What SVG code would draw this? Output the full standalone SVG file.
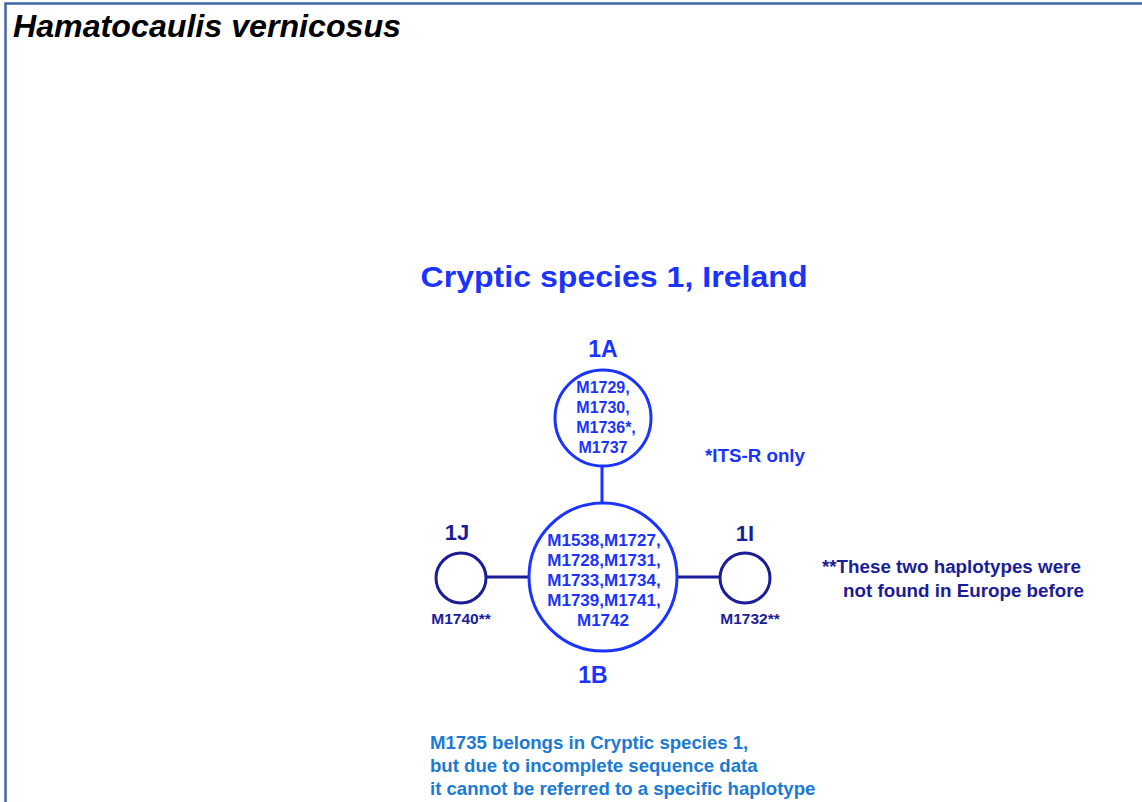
<svg xmlns="http://www.w3.org/2000/svg" width="1142" height="802" viewBox="0 0 1142 802">
<style>
text{font-family:"Liberation Sans",Arial,sans-serif;font-weight:bold}
.b{fill:#1a33ff}
.n{fill:#1c1c99}
.lb{fill:#1a7ad4}
.c{text-anchor:middle}
.cb{fill:#fff;stroke:#1a33ff;stroke-width:3}
.cn{fill:#fff;stroke:#1c1c99;stroke-width:3}
</style>
<rect width="1142" height="802" fill="#fff"/>
<path d="M5.5,802 V3.5 H1142" fill="none" stroke="#3f67a3" stroke-width="2.5"/>
<text x="13" y="37" font-size="32" font-style="italic" fill="#000" textLength="388" lengthAdjust="spacingAndGlyphs">Hamatocaulis vernicosus</text>
<text x="614" y="287" font-size="30" class="b c" textLength="387" lengthAdjust="spacingAndGlyphs">Cryptic species 1, Ireland</text>
<g id="connectors">
<line x1="602" y1="466" x2="602" y2="503" stroke="#1a33ff" stroke-width="3"/>
<line x1="487" y1="577" x2="529" y2="577" stroke="#1c1c99" stroke-width="3"/>
<line x1="677" y1="577" x2="719" y2="577" stroke="#1c1c99" stroke-width="3"/>
</g>
<g id="n1A">
<text x="603" y="357" font-size="23" class="b c">1A</text>
<circle cx="603" cy="418" r="48" class="cb"/>
<text font-size="16" class="b c"><tspan x="603" y="393">M1729,</tspan><tspan x="603" y="413">M1730,</tspan><tspan x="606" y="433">M1736*,</tspan><tspan x="603" y="453">M1737</tspan></text>
</g>
<g id="n1B">
<circle cx="603" cy="577" r="74" class="cb"/>
<text font-size="17" class="b c"><tspan x="604" y="546">M1538,M1727,</tspan><tspan x="604" y="566">M1728,M1731,</tspan><tspan x="604" y="586">M1733,M1734,</tspan><tspan x="604" y="606">M1739,M1741,</tspan><tspan x="603" y="626">M1742</tspan></text>
<text x="593" y="683" font-size="23" class="b c">1B</text>
</g>
<g id="n1J">
<text x="457" y="540" font-size="22" class="n c">1J</text>
<circle cx="461" cy="578" r="25" class="cn"/>
<text x="461" y="624" font-size="15.5" class="n c">M1740**</text>
</g>
<g id="n1I">
<text x="745" y="541" font-size="22" class="n c">1I</text>
<circle cx="745" cy="578" r="25" class="cn"/>
<text x="750" y="624" font-size="15.5" class="n c">M1732**</text>
</g>
<text x="705" y="462" font-size="18" class="b" textLength="100" lengthAdjust="spacingAndGlyphs">*ITS-R only</text>
<text font-size="18.8" class="n"><tspan x="822" y="573">**These two haplotypes were</tspan><tspan x="843" y="597">not found in Europe before</tspan></text>
<text font-size="18.6" class="lb"><tspan x="430" y="749">M1735 belongs in Cryptic species 1,</tspan><tspan x="430" y="772">but due to incomplete sequence data</tspan><tspan x="430" y="795">it cannot be referred to a specific haplotype</tspan></text>
</svg>
